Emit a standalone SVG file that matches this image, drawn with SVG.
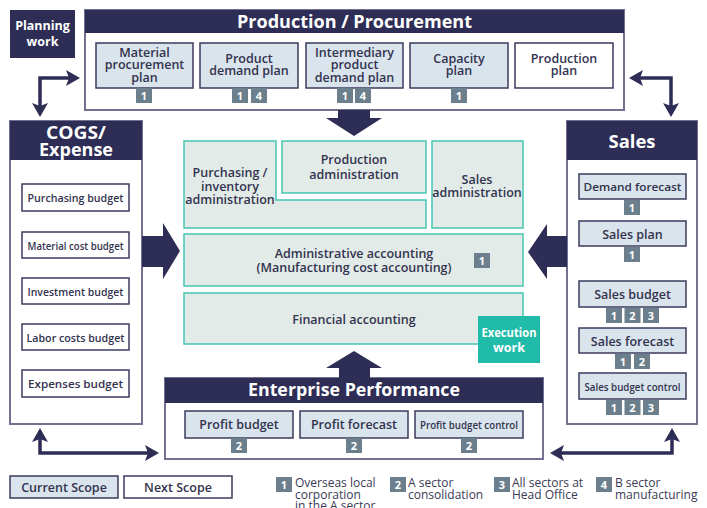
<svg xmlns="http://www.w3.org/2000/svg" width="707" height="508" viewBox="0 0 707 508">
  <defs>
    <style>
      text { font-family: "Open Sans", "Liberation Sans", sans-serif; }
      .hdr { fill: #2e2d55; }
      .panel { fill: #ffffff; stroke: #72718f; stroke-width: 2; }
      .cur { fill: #d9e4ec; stroke: #3b3b5e; stroke-width: 1.5; }
      .nxt { fill: #ffffff; stroke: #3b3b5e; stroke-width: 1.5; }
      .ctr { fill: #e2ebe8; stroke: #45c5b2; stroke-width: 1.5; }
      .badge { fill: #6b7f8d; }
      .bt { fill: #ffffff; font-size: 11px; font-weight: 700; text-anchor: middle; }
      .ht { fill: #ffffff; font-weight: 700; text-anchor: middle; }
      .lbl { fill: #33334f; font-size: 12.5px; font-weight: 600; text-anchor: middle; }
      .sm { fill: #33334f; font-size: 11.5px; font-weight: 600; text-anchor: middle; }
      .lg { fill: #3a3a55; font-size: 12px; font-weight: 400; }
      .conn { fill: none; stroke: #2e2d55; stroke-width: 3.5; marker-start: url(#head); marker-end: url(#head); }
      .block { fill: #2e2d55; }
    </style>
    <marker id="head" viewBox="0 0 14 16" refX="9" refY="8" markerWidth="14" markerHeight="16" markerUnits="userSpaceOnUse" orient="auto-start-reverse">
      <path d="M0,0 L14,8 L0,16 L3,8 Z" fill="#2e2d55"/>
    </marker>
  </defs>

  <rect width="707" height="508" fill="#ffffff"/>

  <!-- Planning work tag -->
  <g id="planning-work">
    <rect x="10" y="10" width="65" height="48" class="hdr"/>
    <text class="ht" font-size="12.5" x="42.5" y="29.5">Planning</text>
    <text class="ht" font-size="12.5" x="42.5" y="45.5">work</text>
  </g>

  <!-- Production / Procurement -->
  <g id="production-procurement">
    <rect x="85" y="10" width="539" height="100" class="panel"/>
    <rect x="85" y="10" width="539" height="23" class="hdr"/>
    <text class="ht" font-size="17" x="354.5" y="27.5" textLength="235" lengthAdjust="spacingAndGlyphs">Production / Procurement</text>
  </g>
  <g id="material-procurement-plan">
    <rect x="96" y="43" width="97" height="45" class="cur"/>
    <text class="lbl" x="144.5" y="56.5">Material</text>
    <text class="lbl" x="144.5" y="69">procurement</text>
    <text class="lbl" x="144.5" y="81.5">plan</text>
    <rect x="136" y="88" width="16" height="15" class="badge"/><text class="bt" x="144" y="99.5">1</text>
  </g>
  <g id="product-demand-plan">
    <rect x="200" y="43" width="98" height="45" class="cur"/>
    <text class="lbl" x="249" y="62.5">Product</text>
    <text class="lbl" x="249" y="75">demand plan</text>
    <rect x="232" y="88" width="16" height="15" class="badge"/><text class="bt" x="240" y="99.5">1</text>
    <rect x="251" y="88" width="16" height="15" class="badge"/><text class="bt" x="259" y="99.5">4</text>
  </g>
  <g id="intermediary-product-demand-plan">
    <rect x="306" y="43" width="97" height="45" class="cur"/>
    <text class="lbl" x="354.5" y="56.5">Intermediary</text>
    <text class="lbl" x="354.5" y="69">product</text>
    <text class="lbl" x="354.5" y="81.5">demand plan</text>
    <rect x="337" y="88" width="16" height="15" class="badge"/><text class="bt" x="345" y="99.5">1</text>
    <rect x="355" y="88" width="16" height="15" class="badge"/><text class="bt" x="363" y="99.5">4</text>
  </g>
  <g id="capacity-plan">
    <rect x="410" y="43" width="98" height="45" class="cur"/>
    <text class="lbl" x="459" y="62.5">Capacity</text>
    <text class="lbl" x="459" y="75">plan</text>
    <rect x="451" y="88" width="16" height="15" class="badge"/><text class="bt" x="459" y="99.5">1</text>
  </g>
  <g id="production-plan">
    <rect x="515" y="43" width="98" height="45" class="nxt"/>
    <text class="lbl" x="564" y="62.5">Production</text>
    <text class="lbl" x="564" y="75">plan</text>
  </g>

  <!-- COGS / Expense -->
  <g id="cogs-expense">
    <rect x="10" y="121" width="132" height="303" class="panel"/>
    <rect x="10" y="121" width="132" height="39" class="hdr"/>
    <text class="ht" font-size="17" x="76" y="139" textLength="60" lengthAdjust="spacingAndGlyphs">COGS/</text>
    <text class="ht" font-size="17" x="76" y="155.5" textLength="74" lengthAdjust="spacingAndGlyphs">Expense</text>
  </g>
  <g id="purchasing-budget">
    <rect x="22" y="184" width="107" height="27" class="nxt"/>
    <text class="sm" x="75.5" y="202" textLength="96" lengthAdjust="spacingAndGlyphs">Purchasing budget</text>
  </g>
  <g id="material-cost-budget">
    <rect x="22" y="232" width="107" height="26" class="nxt"/>
    <text class="sm" x="75.5" y="249.5" textLength="96" lengthAdjust="spacingAndGlyphs">Material cost budget</text>
  </g>
  <g id="investment-budget">
    <rect x="22" y="278" width="107" height="26" class="nxt"/>
    <text class="sm" x="75.5" y="295.5" textLength="96" lengthAdjust="spacingAndGlyphs">Investment budget</text>
  </g>
  <g id="labor-costs-budget">
    <rect x="22" y="324" width="107" height="26" class="nxt"/>
    <text class="sm" x="75.5" y="341.5" textLength="98" lengthAdjust="spacingAndGlyphs">Labor costs budget</text>
  </g>
  <g id="expenses-budget">
    <rect x="22" y="370" width="107" height="27" class="nxt"/>
    <text class="sm" x="75.5" y="388" textLength="95" lengthAdjust="spacingAndGlyphs">Expenses budget</text>
  </g>

  <!-- Sales -->
  <g id="sales">
    <rect x="567" y="121" width="130" height="303" class="panel"/>
    <rect x="567" y="121" width="130" height="39" class="hdr"/>
    <text class="ht" font-size="17" x="632" y="147.5" textLength="47" lengthAdjust="spacingAndGlyphs">Sales</text>
  </g>
  <g id="demand-forecast">
    <rect x="579" y="174" width="107" height="25" class="cur"/>
    <text class="sm" x="632.5" y="191" textLength="98" lengthAdjust="spacingAndGlyphs">Demand forecast</text>
    <rect x="624" y="200" width="16" height="15" class="badge"/><text class="bt" x="632" y="211.5">1</text>
  </g>
  <g id="sales-plan">
    <rect x="579" y="221" width="107" height="25" class="cur"/>
    <text class="lbl" font-size="13.5" x="632.5" y="238.5">Sales plan</text>
    <rect x="624" y="247" width="16" height="15" class="badge"/><text class="bt" x="632" y="258.5">1</text>
  </g>
  <g id="sales-budget">
    <rect x="579" y="281" width="107" height="26" class="cur"/>
    <text class="lbl" font-size="13.5" x="632.5" y="299">Sales budget</text>
    <rect x="606" y="308" width="16" height="15" class="badge"/><text class="bt" x="614" y="319.5">1</text>
    <rect x="624.5" y="308" width="16" height="15" class="badge"/><text class="bt" x="632.5" y="319.5">2</text>
    <rect x="643" y="308" width="16" height="15" class="badge"/><text class="bt" x="651" y="319.5">3</text>
  </g>
  <g id="sales-forecast">
    <rect x="579" y="328" width="107" height="25" class="cur"/>
    <text class="lbl" font-size="13.5" x="632.5" y="345.5">Sales forecast</text>
    <rect x="615" y="354" width="16" height="15" class="badge"/><text class="bt" x="623" y="365.5">1</text>
    <rect x="634" y="354" width="16" height="15" class="badge"/><text class="bt" x="642" y="365.5">2</text>
  </g>
  <g id="sales-budget-control">
    <rect x="579" y="373" width="107" height="26" class="cur"/>
    <text class="sm" x="632.5" y="390.5" textLength="96" lengthAdjust="spacingAndGlyphs">Sales budget control</text>
    <rect x="606" y="400" width="16" height="15" class="badge"/><text class="bt" x="614" y="411.5">1</text>
    <rect x="624.5" y="400" width="16" height="15" class="badge"/><text class="bt" x="632.5" y="411.5">2</text>
    <rect x="643" y="400" width="16" height="15" class="badge"/><text class="bt" x="651" y="411.5">3</text>
  </g>

  <!-- Enterprise Performance -->
  <g id="enterprise-performance">
    <rect x="165" y="378" width="378" height="81" class="panel"/>
    <rect x="165" y="378" width="378" height="25" class="hdr"/>
    <text class="ht" font-size="17" x="354" y="396" textLength="212" lengthAdjust="spacingAndGlyphs">Enterprise Performance</text>
  </g>
  <g id="profit-budget">
    <rect x="185" y="411" width="108" height="27" class="cur"/>
    <text class="lbl" font-size="13" x="239" y="429">Profit budget</text>
    <rect x="231" y="438" width="16" height="15" class="badge"/><text class="bt" x="239" y="449.5">2</text>
  </g>
  <g id="profit-forecast">
    <rect x="300" y="411" width="108" height="27" class="cur"/>
    <text class="lbl" font-size="13" x="354" y="429">Profit forecast</text>
    <rect x="346" y="438" width="16" height="15" class="badge"/><text class="bt" x="354" y="449.5">2</text>
  </g>
  <g id="profit-budget-control">
    <rect x="415" y="411" width="108" height="27" class="cur"/>
    <text class="sm" x="469" y="429" textLength="98" lengthAdjust="spacingAndGlyphs">Profit budget control</text>
    <rect x="461" y="438" width="16" height="15" class="badge"/><text class="bt" x="469" y="449.5">2</text>
  </g>

  <!-- Execution work (centre) -->
  <g id="purchasing-inventory-administration">
    <path d="M184,141 H276 V200 H426 V228 H184 Z" class="ctr"/>
    <text class="lbl" font-size="11.5" x="230" y="177">Purchasing /</text>
    <text class="lbl" font-size="11.5" x="230" y="190.5">inventory</text>
    <text class="lbl" font-size="11.5" x="230" y="203.5">administration</text>
  </g>
  <g id="production-administration">
    <rect x="282" y="141" width="144" height="52" class="ctr"/>
    <text class="lbl" font-size="13.5" x="354" y="164">Production</text>
    <text class="lbl" font-size="13.5" x="354" y="179">administration</text>
  </g>
  <g id="sales-administration">
    <rect x="432" y="141" width="91" height="87" class="ctr"/>
    <text class="lbl" font-size="11.5" x="477" y="183.5">Sales</text>
    <text class="lbl" font-size="11.5" x="477" y="196.5">administration</text>
  </g>
  <g id="administrative-accounting">
    <rect x="184" y="234" width="339" height="52" class="ctr"/>
    <text class="lbl" font-size="14" x="354" y="257.5">Administrative accounting</text>
    <text class="lbl" font-size="14" x="354" y="272">(Manufacturing cost accounting)</text>
    <rect x="474" y="253" width="16" height="15" class="badge"/><text class="bt" x="482" y="264.5">1</text>
  </g>
  <g id="financial-accounting">
    <rect x="184" y="293" width="339" height="51" class="ctr"/>
    <text class="lbl" font-size="14" x="354" y="324">Financial accounting</text>
  </g>
  <g id="execution-work">
    <rect x="478" y="316" width="62" height="47" fill="#21bba9"/>
    <text class="ht" font-size="12.5" x="509" y="336.5" textLength="55" lengthAdjust="spacingAndGlyphs">Execution</text>
    <text class="ht" font-size="12.5" x="509" y="351.5">work</text>
  </g>

  <!-- Connectors -->
  <g id="connectors">
    <path class="conn" d="M75,78 H40 V112"/>
    <path class="conn" d="M634,78 H671 V112"/>
    <path class="conn" d="M40,433 V453 H154"/>
    <path class="conn" d="M672,433 V453 H555"/>
    <polygon class="block" points="338,110 370,110 370,118 382,118 354,136 326,118 338,118"/>
    <polygon class="block" points="354,351 382,368 370,368 370,378 339,378 339,368 326,368"/>
    <polygon class="block" points="142,236 163,236 163,223 180,251 163,279 163,267 142,267"/>
    <polygon class="block" points="567,236 547,236 547,224 528,252 547,279 547,267 567,267"/>
  </g>

  <!-- Legend -->
  <g id="legend">
    <rect x="10" y="476" width="108" height="22" class="cur"/>
    <text class="lbl" font-size="13" x="64" y="492">Current Scope</text>
    <rect x="124" y="476" width="108" height="22" class="nxt"/>
    <text class="lbl" font-size="13" x="178" y="492">Next Scope</text>

    <rect x="276" y="477" width="16" height="15" class="badge"/><text class="bt" x="284" y="488.5">1</text>
    <text class="lg" x="295" y="487">Overseas local</text>
    <text class="lg" x="295" y="498.5">corporation</text>
    <text class="lg" x="295" y="510">in the A sector</text>

    <rect x="390" y="477" width="16" height="15" class="badge"/><text class="bt" x="398" y="488.5">2</text>
    <text class="lg" x="408" y="487">A sector</text>
    <text class="lg" x="408" y="498.5">consolidation</text>

    <rect x="494" y="477" width="16" height="15" class="badge"/><text class="bt" x="502" y="488.5">3</text>
    <text class="lg" x="512" y="487">All sectors at</text>
    <text class="lg" x="512" y="498.5">Head Office</text>

    <rect x="596" y="477" width="16" height="15" class="badge"/><text class="bt" x="604" y="488.5">4</text>
    <text class="lg" x="615" y="487">B sector</text>
    <text class="lg" x="615" y="498.5">manufacturing</text>
  </g>
</svg>
